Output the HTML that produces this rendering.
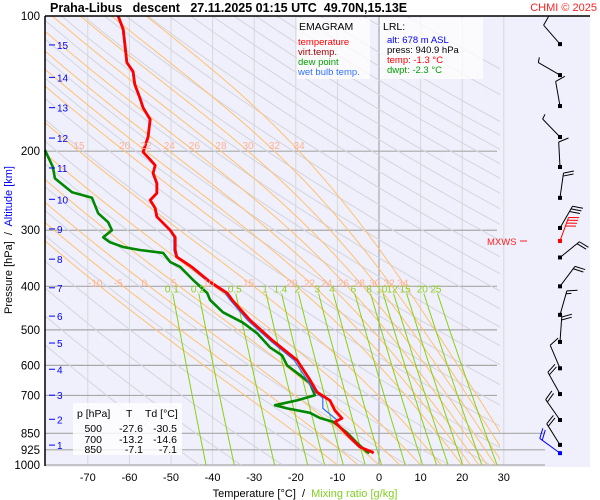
<!DOCTYPE html>
<html><head><meta charset="utf-8"><style>
body{margin:0;background:#fff;width:600px;height:500px;overflow:hidden}
svg{font-family:"Liberation Sans",sans-serif;display:block}
text{white-space:pre}
</style></head><body>
<svg id="chart" width="600" height="500" viewBox="0 0 600 500" xmlns="http://www.w3.org/2000/svg">
<defs><clipPath id="plotclip"><rect x="45" y="16" width="455" height="449"/></clipPath></defs>
<rect x="45" y="16" width="545" height="451" fill="#f0f0fc"/>
<g id="grid"></g>
<g id="adiab" clip-path="url(#plotclip)"></g>
<g id="series"></g>
<g id="winds"></g>
<line x1="45" y1="16" x2="590" y2="16" stroke="#000" stroke-width="1.5"/>
<line x1="45" y1="16" x2="45" y2="466" stroke="#000" stroke-width="1.5"/>
<text x="50" y="12" font-size="12.5" font-weight="bold" xml:space="preserve">Praha-Libus   descent   27.11.2025 01:15 UTC  49.70N,15.13E</text>
<text x="597" y="11" font-size="11" fill="#ff2020" text-anchor="end">CHMI © 2025</text>
<g>
<rect x="297" y="18" width="73" height="61" fill="#fff" fill-opacity="0.75"/>
<text x="299" y="30" font-size="10.5">EMAGRAM</text>
<text x="298" y="45" font-size="9.5" fill="#ff0000">temperature</text>
<text x="298" y="55" font-size="9.5" fill="#a00000">virt.temp.</text>
<text x="298" y="65" font-size="9.5" fill="#00a000">dew point</text>
<text x="298" y="75" font-size="9.5" fill="#3070ff">wet bulb temp.</text>
</g>
<g>
<rect x="380" y="18" width="103" height="61" fill="#fff" fill-opacity="0.75"/>
<text x="383" y="30" font-size="10.5">LRL:</text>
<text x="387" y="43" font-size="9.5" fill="#0000ff">alt: 678 m ASL</text>
<text x="387" y="53" font-size="9.5">press: 940.9 hPa</text>
<text x="387" y="63" font-size="9.5" fill="#ff0000">temp: -1.3 °C</text>
<text x="387" y="73" font-size="9.5" fill="#00a000">dwpt: -2.3 °C</text>
</g>
<g font-size="10.5">
<rect x="73" y="403" width="109" height="52" fill="#fff" fill-opacity="0.8"/>
<text x="77" y="417">p [hPa]</text><text x="126" y="417">T</text><text x="145" y="417">Td [°C]</text>
<text x="102" y="432" text-anchor="end">500</text><text x="143" y="432" text-anchor="end">-27.6</text><text x="177" y="432" text-anchor="end">-30.5</text>
<text x="102" y="443" text-anchor="end">700</text><text x="143" y="443" text-anchor="end">-13.2</text><text x="177" y="443" text-anchor="end">-14.6</text>
<text x="102" y="453" text-anchor="end">850</text><text x="143" y="453" text-anchor="end">-7.1</text><text x="177" y="453" text-anchor="end">-7.1</text>
</g>
<text x="487" y="245" font-size="9.5" fill="#ff2020">MXWS</text>
<line x1="520" y1="241" x2="527" y2="241" stroke="#ff2020"/>
<text transform="translate(12,240) rotate(-90)" font-size="11" text-anchor="middle" xml:space="preserve">Pressure [hPa]  /  <tspan fill="#0000ff">Altitude [km]</tspan></text>
<text x="305" y="497" font-size="11" text-anchor="middle" xml:space="preserve">Temperature [°C]  /  <tspan fill="#80d020">Mixing ratio [g/kg]</tspan></text>
</svg>
<script>
// ---- data ----
const pressureTicks=[100,200,300,400,500,600,700,850,925,1000];
const tempTicks=[-70,-60,-50,-40,-30,-20,-10,0,10,20,30];
const altKm=[1,2,3,4,5,6,7,8,9,10,11,12,13,14,15];
const altP=[903,791,699,612,535,466,403,348,298,256,218,187,160,137,116];
const dryTheta=[230,240,250,260,270,280,290,300,310,320,330,340,350,360,370,380,390,400,410,420,430,440,450,460,470,480,490,500,520,540];
const moistThetaW=[-10,-5,0,5,10,15,20,22,24,26,28,30,32,34];
const moistUpperLabels=[15,20,22,24,26,28,30,32,34];
const mixRatios=[0.1,0.2,0.5,1,1.4,2,3,4,6,8,10,12,15,20,25];
const tempP=[100,107,115,127,133,142,152,160,170,186,201,209,215,224,236,248,257,268,280,300,311,332,344,362,391,414,429,476,527,584,646,688,718,756,787,802,867,912,935,941];
const tempT=[-62.7,-61.5,-61.1,-60.6,-59.1,-58.7,-57.5,-56.7,-55.0,-55.5,-56.7,-55.0,-53.8,-54.3,-53.4,-53.4,-55.0,-53.8,-53.4,-50.2,-49.0,-49.0,-48.6,-45.0,-40.6,-36.5,-35.3,-31.0,-25.7,-19.7,-16.6,-14.9,-11.8,-10.6,-8.9,-10.6,-7.0,-4.6,-1.7,-1.3];
const dewP=[199,217,230,247,254,275,288,300,311,319,327,332,337,353,362,387,414,429,457,482,509,547,570,600,631,657,699,718,736,748,765,786,801,847,893,935,941];
const dewT=[-80.3,-78.4,-77.9,-73.8,-69.0,-67.5,-65.1,-64.2,-66.3,-64.7,-61.5,-57.5,-51.9,-50.2,-47.8,-44.7,-41.3,-40.6,-37.5,-32.7,-29.3,-26.2,-23.3,-22.1,-19.0,-16.6,-15.4,-19.7,-25.0,-22.1,-16.6,-14.2,-11.1,-7.7,-5.3,-2.9,-2.3];
const wbP=[100,107,115,127,133,142,152,160,170,186,201,209,215,224,236,248,257,268,280,300,311,332,344,362,391,414,429,476,527,584,646,688,709,748,794,802,867,912,935,941];
const wbT=[-62.9,-61.7,-61.3,-60.8,-59.3,-58.9,-57.7,-56.9,-55.2,-55.7,-56.9,-55.2,-54.0,-54.5,-53.6,-53.6,-55.2,-54.0,-53.6,-50.4,-49.3,-49.3,-48.9,-45.4,-41.0,-37.0,-35.8,-31.6,-26.3,-20.4,-17.3,-15.3,-13.5,-13.5,-10.1,-10.8,-7.3,-4.9,-2.0,-1.6];
const windP=[115.5,135.4,158.7,186,216.9,254.1,296.5,317,345,400,463,532,609,695,794,902,941];
const windDir=[319,300,350,316,357,8,30,20,51,37,16,4,337,331,325,328,306];
const windSpd=[10,5,10,5,10,20,30,40,20,20,15,20,10,20,20,20,20];
// ---- scales ----
const X=t=>379+4.16*t;
const Y=p=>16+195*Math.log(p/100);
const NS='http://www.w3.org/2000/svg';
function mk(tag,attrs,parent){const e=document.createElementNS(NS,tag);for(const k in attrs)e.setAttribute(k,attrs[k]);parent.appendChild(e);return e;}
const grid=document.getElementById('grid'),adiab=document.getElementById('adiab'),series=document.getElementById('series'),winds=document.getElementById('winds'),svg=document.getElementById('chart');
tempTicks.forEach(t=>{
 const l=mk('line',{x1:X(t),x2:X(t),y1:16,y2:465,stroke:t===0?'#999':'#d8d8d8','stroke-width':1},grid);
 
 
 const tx=mk('text',{x:X(t),y:481,'font-size':11,'text-anchor':'middle'},svg);tx.textContent=t;
 
 
});
pressureTicks.forEach(p=>{
 if(p>100){const l=mk('line',{x1:45,x2:p>=850?545:497,y1:Y(p),y2:Y(p),stroke:'#a8a8a8','stroke-width':1.2},grid);
 
 }
 const tx=mk('text',{x:40,y:Y(p)+4,'font-size':11.5,'text-anchor':'end'},svg);tx.textContent=p;
 
 
});
altKm.forEach((k,i)=>{
 const y=Y(altP[i]);
 const l=mk('line',{x1:49,x2:55,y1:y,y2:y,stroke:'#0000ff'},svg);
 
 
 const tx=mk('text',{x:57,y:y+4,'font-size':10,fill:'#0000ff'},svg);tx.textContent=k;
 
 
});
dryTheta.forEach(th=>{
 let d='';for(let p=100;p<=1000;p+=10){const T=th*Math.pow(p/1000,0.2857)-273.15;d+=(d?'L':'M')+X(T).toFixed(1)+','+Y(p).toFixed(1);}
 const e=mk('path',{d:d,fill:'none',stroke:'#d4d4dc','stroke-width':1},adiab);
 
 
});
function es(T){return 6.112*Math.exp(17.67*T/(T+243.5));}
function ws(T,p){const e=es(T);return 0.622*e/(p-e);}
function moist(tw){const pts=[];let T=tw;for(let p=1000;p>=100;p-=2){pts.push([p,T]);const Tk=T+273.15,w=ws(T,p);const g=(287*Tk+2.5e6*w)/(p*(1004+2.5e6*2.5e6*w*0.622/(287*Tk*Tk)));T-=g*2;}return pts;}
function tAt(pts,p){for(const q of pts){if(q[0]<=p)return q[1];}return pts[pts.length-1][1];}
moistThetaW.forEach(tw=>{
 const pts=moist(tw);let d='';pts.forEach(q=>{d+=(d?'L':'M')+X(q[1]).toFixed(1)+','+Y(q[0]).toFixed(1);});
 const e=mk('path',{d:d,fill:'none',stroke:'#ffc070','stroke-width':1},adiab);
 
 
 const tx=mk('text',{x:X(tAt(pts,392)),y:Y(392)+4,'font-size':10,fill:'#ffb090','text-anchor':'middle'},svg);tx.textContent=tw;
 
 
 if(moistUpperLabels.indexOf(tw)>=0){const t2=mk('text',{x:X(tAt(pts,200)),y:Y(200)-2,'font-size':10,fill:'#ffb090','text-anchor':'middle'},svg);t2.textContent=tw;
 
 }
});
function tMix(w,p){const e=(w/1000)*p/(0.622+w/1000);const a=Math.log(e/6.112);return 243.5*a/(17.67-a);}
mixRatios.forEach(w=>{
 let d='';for(let p=415;p<=1000;p+=5){d+=(d?'L':'M')+X(tMix(w,p)).toFixed(1)+','+Y(p).toFixed(1);}
 const e=mk('path',{d:d,fill:'none',stroke:'#88d010','stroke-width':1},adiab);
 
 
 const tx=mk('text',{x:X(tMix(w,405)),y:Y(405)+4,'font-size':10,fill:'#90d020','text-anchor':'middle'},svg);tx.textContent=w;
 
 
});
function line(P,T,color,w){let d='';P.forEach((p,i)=>{d+=(i?'L':'M')+X(T[i]).toFixed(1)+','+Y(p).toFixed(1);});return mk('path',{d:d,fill:'none',stroke:color,'stroke-width':w,'stroke-linejoin':'round'},series);}
let s=line(dewP,dewT,'#008800',2.6);


s=line(wbP,wbT,'#3070ff',1.2);


s=line(tempP,tempT,'#ff0000',2.8);


windP.forEach((p,i)=>{
 const cx=560,cy=Y(p),a=windDir[i]*Math.PI/180,sx=Math.sin(a),sy=-Math.cos(a),L=25;
 const color=i===7?'#ff0000':(i===windP.length-1?'#0000ff':'#000');
 const g=mk('g',{},winds);
 
 
 const tx=cx+sx*L,ty=cy+sy*L;
 mk('line',{x1:cx,y1:cy,x2:tx,y2:ty,stroke:color,'stroke-width':1},g);
 const px=-sy,py=sx;let spd=windSpd[i],k=0;
 while(spd>=5){const full=spd>=10,len=full?10:5;const bx=tx-sx*k*3,by=ty-sy*k*3;
  mk('line',{x1:bx,y1:by,x2:bx+px*len+sx*len*0.35,y2:by+py*len+sy*len*0.35,stroke:color,'stroke-width':1},g);
  spd-=full?10:5;k++;}
 mk('rect',{x:cx-2,y:cy-2,width:4,height:4,fill:color},g);
});
</script>
</body></html>
